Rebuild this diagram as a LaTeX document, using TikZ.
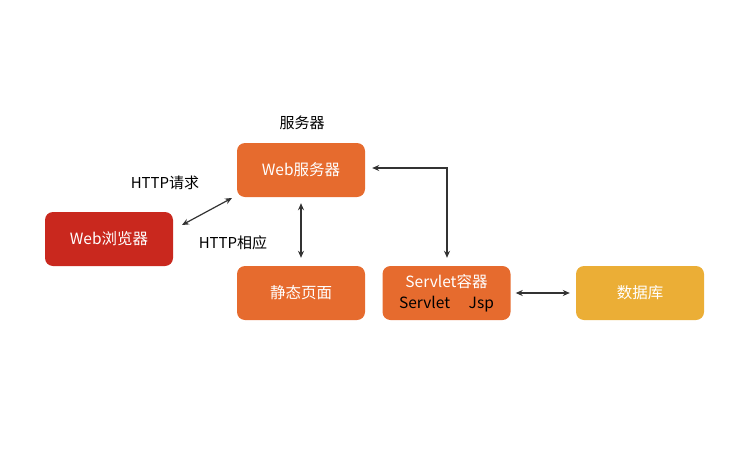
\documentclass[tikz,border=0pt]{standalone}
\usepackage{fontspec}
\setmainfont{Noto Sans CJK SC}
\usetikzlibrary{arrows.meta}
\definecolor{cred}{HTML}{C9281E}
\definecolor{corange}{HTML}{E66B2E}
\definecolor{cyellow}{HTML}{EBAE36}
\definecolor{cline}{HTML}{333333}
\begin{document}
\begin{tikzpicture}[x=1pt,y=-1pt,
  box/.style={rounded corners=8pt, minimum width=128pt, minimum height=54pt, inner sep=0pt, text=white, font=\fontsize{15.5}{18}\selectfont, align=center},
  lbl/.style={font=\fontsize{15}{17}\selectfont, text=black},
  conn/.style={draw=cline, line width=1.2pt, {Stealth[length=7pt,width=6pt]}-{Stealth[length=7pt,width=6pt]}}]
\useasboundingbox (0,0) rectangle (750,450);
\node[box, fill=cred] (browser) at (109,239) {Web浏览器};
\node[box, fill=corange] (web) at (301,170) {Web服务器};
\node[box, fill=corange] (static) at (301,293) {静态页面};
\node[box, fill=corange] (servlet) at (446.5,293) {Servlet容器\\[3pt]\textcolor{black}{Servlet\hspace{1.2em}Jsp}};
\node[box, fill=cyellow] (db) at (640,293) {数据库};
\node[lbl] (lserver) at (302,123) {服务器};
\node[lbl] (lreq) at (165,183) {HTTP请求};
\node[lbl] (lresp) at (233,243) {HTTP相应};
\coordinate (bA) at (182,225);
\coordinate (wA) at (232,198);
\draw[conn] (bA) -- (wA);
\draw[conn] ([yshift=-6pt]web.south) -- ([yshift=8pt]static.north);
\coordinate (corner) at (447,168);
\draw[conn] ([xshift=7pt]web.east |- corner) -- (corner) -- ([yshift=8pt]servlet.north -| corner);
\draw[conn] ([xshift=5pt]servlet.east) -- ([xshift=-6pt]db.west);
\end{tikzpicture}
\end{document}
